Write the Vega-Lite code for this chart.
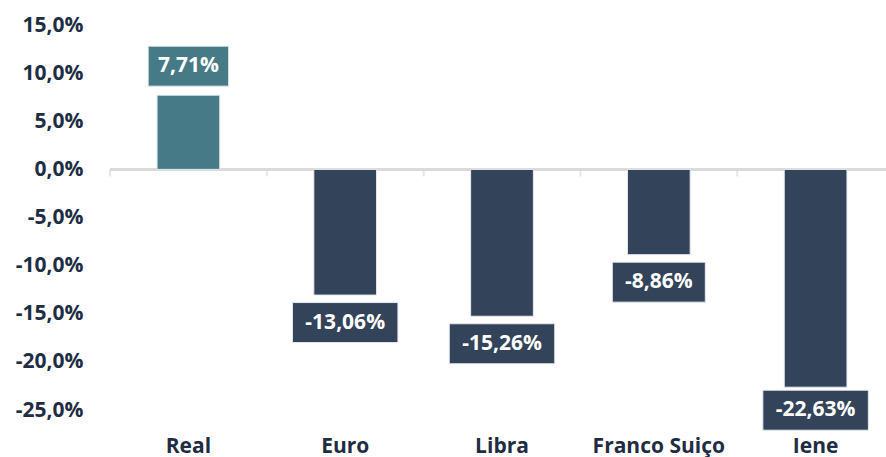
{
  "$schema": "https://vega.github.io/schema/vega-lite/v6.json",
  "autosize": {"type": "none"},
  "width": 784,
  "height": 385,
  "padding": {"left": 110, "top": 25, "right": 0, "bottom": 47},
  "config": {
    "locale": {"number": {"decimal": ",", "thousands": ".", "grouping": [3], "currency": ["R$", ""], "minus": "-"}},
    "view": {"stroke": null},
    "font": "Open Sans"
  },
  "data": {
    "values": [
      {"moeda": "Real", "valor": 0.0771},
      {"moeda": "Euro", "valor": -0.1306},
      {"moeda": "Libra", "valor": -0.1526},
      {"moeda": "Franco Suiço", "valor": -0.0886},
      {"moeda": "Iene", "valor": -0.2263}
    ]
  },
  "encoding": {
    "x": {
      "field": "moeda", "type": "nominal", "sort": null,
      "scale": {"paddingInner": 0.6, "paddingOuter": 0.3},
      "axis": {"title": null, "domain": false, "ticks": false, "labelAngle": 0, "labelPadding": 25,
               "labelFont": "Open Sans", "labelFontSize": 21, "labelFontWeight": "bold", "labelColor": "#1F2D44"}
    }
  },
  "layer": [
    {
      "mark": {"type": "rule", "color": "#D9D9D9", "strokeWidth": 2},
      "encoding": {"x": null, "y": {"datum": 0, "type": "quantitative"}}
    },
    {
      "mark": {"type": "tick", "orient": "vertical", "color": "#D9D9D9", "thickness": 2, "size": 7, "yOffset": 3.5, "xOffset": -47},
      "encoding": {
        "x": {"field": "moeda", "type": "nominal", "sort": null, "bandPosition": 0},
        "y": {"datum": 0, "type": "quantitative"}
      }
    },
    {
      "mark": {"type": "bar", "stroke": "#E6EAEE", "strokeWidth": 1},
      "encoding": {
        "y": {
          "field": "valor", "type": "quantitative",
          "scale": {"domain": [-0.25, 0.15]},
          "axis": {"title": null, "format": ".1%", "values": [-0.25, -0.2, -0.15, -0.1, -0.05, 0, 0.05, 0.1, 0.15],
                   "domain": false, "ticks": false, "grid": false, "labelPadding": 27,
                   "labelFont": "Open Sans", "labelFontSize": 21, "labelFontWeight": "bold", "labelColor": "#1F2D44"}
        },
        "color": {
          "condition": {"test": "datum.valor > 0", "value": "#457A86"},
          "value": "#334359"
        }
      }
    },
    {
      "mark": {"type": "tick", "orient": "horizontal", "thickness": 40,
               "size": {"expr": "length(format(datum.valor, '.2%')) * 12.5 + 18"},
               "yOffset": {"expr": "datum.valor > 0 ? -29 : (datum.valor < -0.2 ? 23 : 27.5)"},
               "stroke": "#E6EAEE", "strokeWidth": 1, "opacity": 1},
      "encoding": {
        "y": {"field": "valor", "type": "quantitative"},
        "color": {
          "condition": {"test": "datum.valor > 0", "value": "#457A86"},
          "value": "#334359"
        }
      }
    },
    {
      "mark": {"type": "text", "color": "white", "font": "Open Sans", "fontSize": 21, "fontWeight": "bold",
               "baseline": "middle", "align": "center",
               "yOffset": {"expr": "datum.valor > 0 ? -29 : (datum.valor < -0.2 ? 23 : 27.5)"}},
      "encoding": {
        "y": {"field": "valor", "type": "quantitative"},
        "text": {"field": "valor", "type": "quantitative", "format": ".2%"}
      }
    }
  ]
}
